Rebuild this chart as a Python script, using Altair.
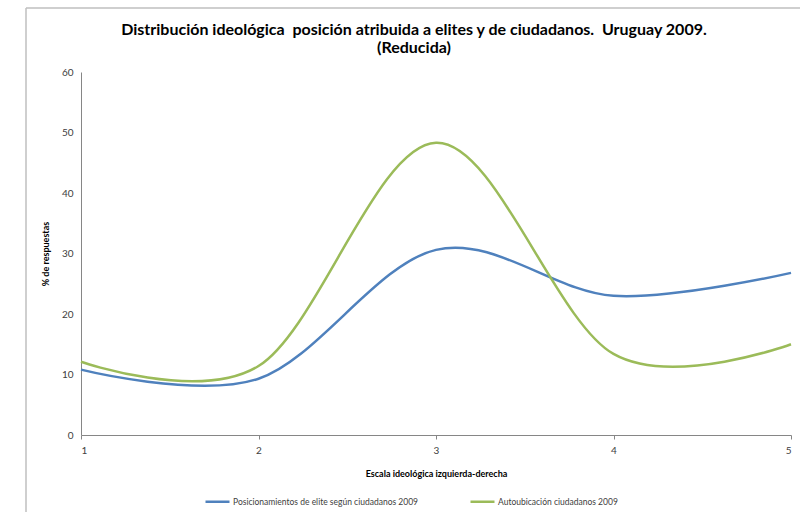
import altair as alt
import pandas as pd

# Ideological scale positions (1 = left, 5 = right)
escala = [1, 2, 3, 4, 5]
elite_segun_ciudadanos = [10.8, 9.3, 30.6, 23.0, 26.8]
autoubicacion = [12.1, 11.4, 48.3, 13.4, 15.0]

serie_elite = "Posicionamientos de elite según ciudadanos 2009"
serie_auto = "Autoubicación ciudadanos 2009"

titulo = ["Distribución ideológica\u00a0 posición atribuida a elites y de ciudadanos.\u00a0 Uruguay 2009.",
          "(Reducida)"]

df = pd.DataFrame({
    "escala": escala * 2,
    "pct": elite_segun_ciudadanos + autoubicacion,
    "serie": [serie_elite] * len(escala) + [serie_auto] * len(escala),
})
one = pd.DataFrame({"k": [0]})

FONT = "Lato"
W, H = 710, 363

lines = alt.Chart(df).mark_line(
    interpolate="cardinal", tension=0, strokeWidth=2.5
).encode(
    x=alt.X("escala:Q",
            scale=alt.Scale(domain=[1, 5], nice=False, zero=False),
            axis=alt.Axis(values=escala, format="d", title="Escala ideológica izquierda-derecha",
                          grid=False, tickSize=4, labelPadding=6, titlePadding=14)),
    y=alt.Y("pct:Q",
            scale=alt.Scale(domain=[0, 60], nice=False),
            axis=alt.Axis(values=[0, 10, 20, 30, 40, 50, 60], title="% de respuestas",
                          grid=False, ticks=False, labelPadding=8, titlePadding=11)),
    color=alt.Color("serie:N",
                    scale=alt.Scale(domain=[serie_elite, serie_auto],
                                    range=["#4F81BD", "#9BBB59"]),
                    legend=alt.Legend(title=None, orient="none", direction="horizontal",
                                      legendX=123, legendY=416, symbolType="stroke",
                                      symbolSize=576, symbolStrokeWidth=2.5,
                                      columnPadding=46, labelOffset=2, labelLimit=0,
                                      labelFontSize=8.5, labelFont=FONT, labelColor="#404040",
                                      padding=0)),
)

# Chart title, two centred lines above the plot
title_marks = [
    alt.Chart(one).mark_text(
        text=t, font=FONT, fontSize=16, fontWeight="bold", color="#000000",
        align="center", baseline="middle"
    ).encode(x=alt.value(333), y=alt.value(yy))
    for t, yy in zip(titulo, [-42, -24])
]

# Outer frame of the chart area (top and left edges)
frame_top = alt.Chart(one).mark_rule(color="#BFBFBF", strokeWidth=1.5).encode(
    x=alt.value(-55), x2=alt.value(W + 20), y=alt.value(-64)
)
frame_left = alt.Chart(one).mark_rule(color="#BFBFBF", strokeWidth=1.5).encode(
    x=alt.value(-55), y=alt.value(-64), y2=alt.value(H + 90)
)

chart = alt.layer(frame_top, frame_left, *title_marks, lines).properties(
    width=W,
    height=H,
    padding={"left": 81, "top": 72, "right": 9, "bottom": 77},
    autosize=alt.AutoSizeParams(type="none"),
).configure_view(stroke=None).configure_axis(
    domainColor="#868686", tickColor="#868686",
    labelFont=FONT, labelFontSize=10, labelColor="#404040",
    titleFont=FONT, titleFontSize=9, titleFontWeight="bold", titleColor="#000000",
)

chart.save("out.html", embed_options={"renderer": "svg", "actions": False})
